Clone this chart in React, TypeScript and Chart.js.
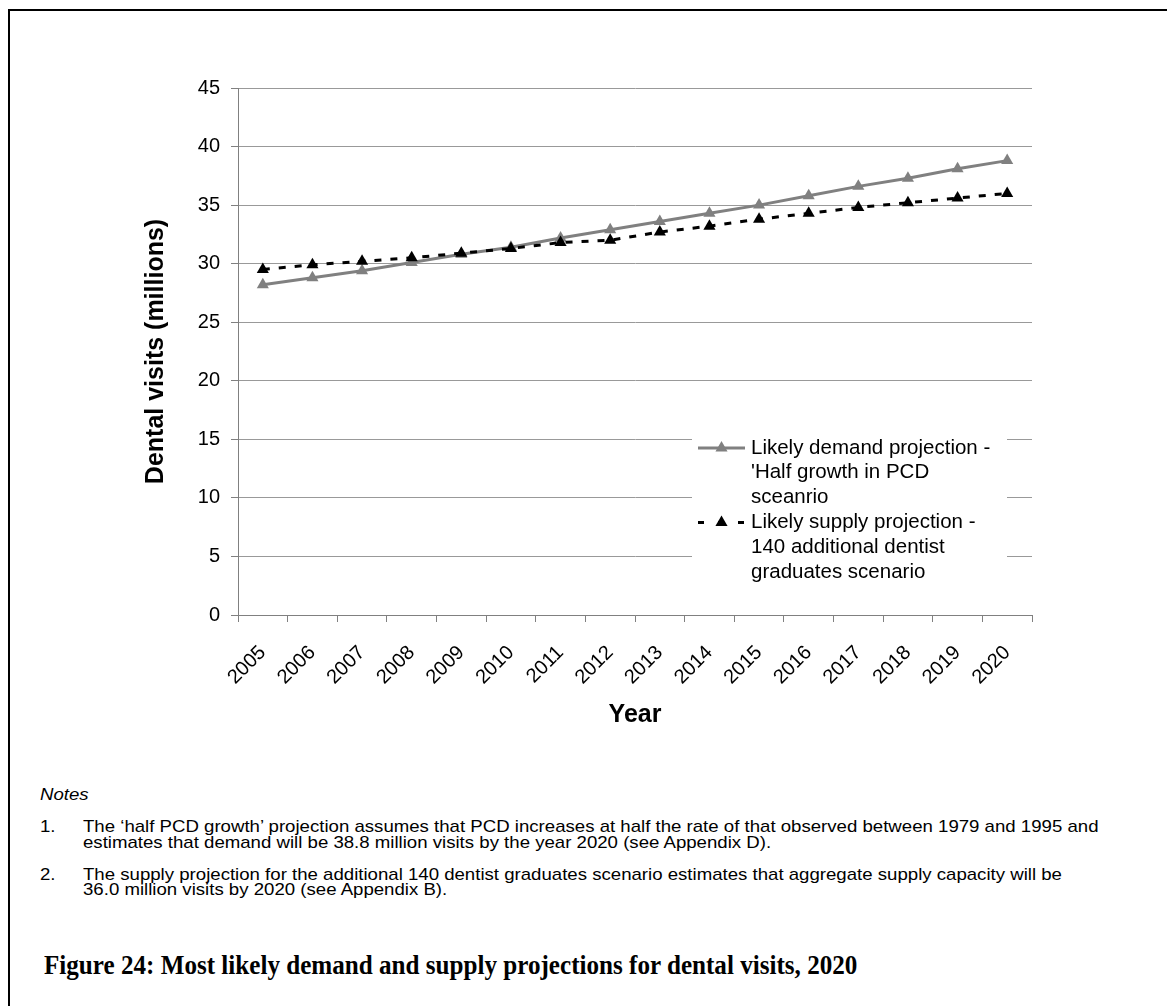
import { useEffect, useRef } from "react";
import { Chart, registerables } from "chart.js";
import { drawPoint } from "chart.js/helpers";

Chart.register(...registerables);

// Projection years (category axis)
const years = [
  "2005", "2006", "2007", "2008", "2009", "2010", "2011", "2012",
  "2013", "2014", "2015", "2016", "2017", "2018", "2019", "2020",
];

// Dental visits, millions
const demandVisits = [
  28.2, 28.8, 29.4, 30.1, 30.8, 31.4, 32.2, 32.9,
  33.6, 34.3, 35.0, 35.8, 36.6, 37.3, 38.1, 38.8,
];
const supplyVisits = [
  29.5, 29.9, 30.2, 30.5, 30.9, 31.3, 31.8, 32.0,
  32.7, 33.2, 33.8, 34.3, 34.8, 35.2, 35.6, 36.0,
];

const yMin = 0;
const yMax = 45;
const yStep = 5;

const demandLegend = ["Likely demand projection -", "'Half growth in PCD", "sceanrio"];
const supplyLegend = ["Likely supply projection -", "140 additional dentist", "graduates scenario"];

const yTitle = "Dental visits (millions)";
const xTitle = "Year";

const notesHeading = "Notes";
const noteOne = [
  "The \u2018half PCD growth\u2019 projection assumes that PCD increases at half the rate of that observed between 1979 and 1995 and",
  "estimates that demand will be 38.8 million visits by the year 2020 (see Appendix D).",
];
const noteTwo = [
  "The supply projection for the additional 140 dentist graduates scenario estimates that aggregate supply capacity will be",
  "36.0 million visits by 2020 (see Appendix B).",
];
const caption = "Figure 24: Most likely demand and supply projections for dental visits, 2020";

const SANS = "'Liberation Sans', Arial, sans-serif";
const SERIF = "'Liberation Serif', 'Times New Roman', serif";

// Legend drawn inside the plot area on a white panel, with wrapped labels
const insideLegend = {
  id: "insideLegend",
  afterDatasetsDraw(chart: any, _args: any, opts: any) {
    const { ctx } = chart;
    ctx.save();
    ctx.fillStyle = "#ffffff";
    ctx.fillRect(opts.x, opts.y, opts.width, opts.height);
    ctx.font = `${opts.fontSize}px ${SANS}`;
    ctx.textBaseline = "middle";
    ctx.textAlign = "left";
    let lineY = opts.firstLineY;
    opts.items.forEach((item: any) => {
      const ds = chart.data.datasets[item.datasetIndex];
      ctx.save();
      ctx.strokeStyle = ds.borderColor;
      ctx.lineWidth = ds.borderWidth;
      ctx.setLineDash(item.sampleDash);
      ctx.beginPath();
      ctx.moveTo(opts.sampleX0, lineY);
      ctx.lineTo(opts.sampleX1, lineY);
      ctx.stroke();
      ctx.setLineDash([]);
      ctx.fillStyle = ds.pointBackgroundColor;
      drawPoint(
        ctx,
        { pointStyle: ds.pointStyle, radius: opts.markerRadius, rotation: 0, borderWidth: 0 } as any,
        (opts.sampleX0 + opts.sampleX1) / 2,
        lineY
      );
      ctx.restore();
      ctx.fillStyle = "#000";
      item.lines.forEach((line: string) => {
        ctx.fillText(line, opts.textX, lineY);
        lineY += opts.lineStep;
      });
    });
    ctx.restore();
  },
};

export default function App() {
  const canvasRef = useRef<HTMLCanvasElement | null>(null);

  useEffect(() => {
    document.body.style.margin = "0";
    const canvas = canvasRef.current;
    if (!canvas) return;
    const tickFont = { family: SANS, size: 20 };
    const titleFont = { family: SANS, size: 25, weight: "bold" as const };

    const chart = new Chart(canvas, {
      type: "line",
      data: {
        labels: years,
        datasets: [
          {
            label: demandLegend.join(" "),
            data: demandVisits,
            borderColor: "#808080",
            backgroundColor: "#808080",
            borderWidth: 3,
            pointStyle: "triangle",
            pointRadius: 7,
            pointBorderWidth: 0,
            pointBackgroundColor: "#808080",
            tension: 0,
            order: 1,
          },
          {
            label: supplyLegend.join(" "),
            data: supplyVisits,
            borderColor: "#000000",
            backgroundColor: "#000000",
            borderWidth: 3,
            borderDash: [7, 9],
            pointStyle: "triangle",
            pointRadius: 7,
            pointBorderWidth: 0,
            pointBackgroundColor: "#000000",
            tension: 0,
            order: 0,
          },
        ],
      },
      options: {
        animation: false,
        responsive: false,
        devicePixelRatio: 1,
        events: [],
        layout: { padding: { left: 141, top: 88, right: 135, bottom: 0 } },
        plugins: {
          legend: { display: false },
          tooltip: { enabled: false },
          insideLegend: {
            x: 692,
            y: 435,
            width: 315,
            height: 152,
            sampleX0: 698,
            sampleX1: 745,
            textX: 751,
            firstLineY: 448,
            lineStep: 24.8,
            fontSize: 20.5,
            markerRadius: 7,
            items: [
              { datasetIndex: 0, lines: demandLegend, sampleDash: [] },
              { datasetIndex: 1, lines: supplyLegend, sampleDash: [6, 14] },
            ],
          },
        } as any,
        scales: {
          x: {
            type: "category",
            offset: true,
            grid: {
              display: true,
              drawOnChartArea: false,
              drawTicks: true,
              tickLength: 7,
              tickColor: "#808080",
              offset: true,
            },
            border: { display: true, color: "#808080", width: 1 },
            ticks: {
              font: tickFont,
              color: "#000",
              minRotation: 45,
              maxRotation: 45,
              autoSkip: false,
              padding: 19,
            },
            title: { display: true, text: xTitle, font: titleFont, color: "#000", padding: 0 },
            afterFit: (scale: any) => {
              scale.height = 115;
            },
          },
          y: {
            min: yMin,
            max: yMax,
            ticks: { stepSize: yStep, font: tickFont, color: "#000", padding: 11 },
            grid: { color: "#999999", lineWidth: 1, tickLength: 7, tickColor: "#808080" },
            border: { display: true, color: "#808080", width: 1 },
            title: { display: true, text: yTitle, font: titleFont, color: "#000", padding: 0 },
            afterFit: (scale: any) => {
              scale.width = 97;
            },
          },
        },
      },
      plugins: [insideLegend],
    });
    return () => chart.destroy();
  }, []);

  // Notes text is set in a slightly widened sans face
  const noteText: React.CSSProperties = {
    position: "absolute",
    fontFamily: SANS,
    fontSize: 16.2,
    lineHeight: "16px",
    whiteSpace: "nowrap",
    color: "#000",
    transform: "scaleX(1.15)",
    transformOrigin: "0 50%",
  };

  return (
    <div
      style={{
        position: "relative",
        width: 1167,
        height: 1006,
        overflow: "hidden",
        background: "#fff",
      }}
    >
      <div
        style={{
          position: "absolute",
          left: 8,
          top: 9,
          width: 1400,
          height: 1200,
          borderLeft: "2px solid #000",
          borderTop: "2px solid #000",
        }}
      />
      <canvas
        ref={canvasRef}
        width={1167}
        height={730}
        style={{ position: "absolute", left: 0, top: 0, width: 1167, height: 730 }}
      />
      <div style={{ ...noteText, left: 40, top: 786, fontStyle: "italic" }}>{notesHeading}</div>
      <div style={{ ...noteText, left: 40, top: 818 }}>1.</div>
      <div style={{ ...noteText, left: 83, top: 818 }}>{noteOne[0]}</div>
      <div style={{ ...noteText, left: 83, top: 834 }}>{noteOne[1]}</div>
      <div style={{ ...noteText, left: 40, top: 866 }}>2.</div>
      <div style={{ ...noteText, left: 83, top: 866 }}>{noteTwo[0]}</div>
      <div style={{ ...noteText, left: 83, top: 881 }}>{noteTwo[1]}</div>
      <div
        style={{
          position: "absolute",
          left: 44,
          top: 951,
          fontFamily: SERIF,
          fontWeight: "bold",
          fontSize: 27,
          lineHeight: "29px",
          whiteSpace: "nowrap",
          color: "#000",
          transform: "scaleX(0.93)",
          transformOrigin: "0 50%",
        }}
      >
        {caption}
      </div>
    </div>
  );
}
